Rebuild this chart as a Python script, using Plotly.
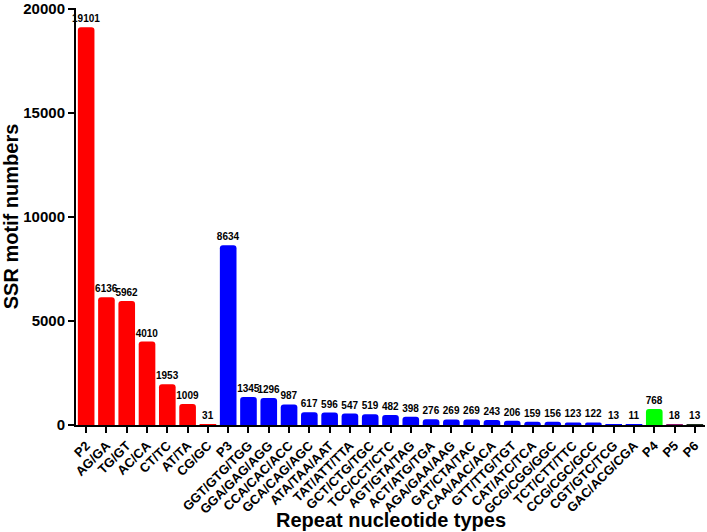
import plotly.graph_objects as go

categories = ["P2", "AG/GA", "TG/GT", "AC/CA", "CT/TC", "AT/TA", "CG/GC",
              "P3", "GGT/GTG/TGG", "GGA/GAG/AGG", "CCA/CAC/ACC", "GCA/CAG/AGC",
              "ATA/TAA/AAT", "TAT/ATT/TTA", "GCT/CTG/TGC", "TCC/CCT/CTC",
              "AGT/GTA/TAG", "ACT/ATG/TGA", "AGA/GAA/AAG", "GAT/CTA/TAC",
              "CAA/AAC/ACA", "GTT/TTG/TGT", "CAT/ATC/TCA", "GCG/CGG/GGC",
              "TCT/CTT/TTC", "CCG/CGC/GCC", "CGT/GTC/TCG", "GAC/ACG/CGA",
              "P4", "P5", "P6"]
values = [19101, 6136, 5962, 4010, 1953, 1009, 31,
          8634, 1345, 1296, 987, 617, 596, 547, 519, 482, 398, 276, 269, 269,
          243, 206, 159, 156, 123, 122, 13, 11,
          768, 18, 13]
groups = ["di"] * 7 + ["tri"] * 21 + ["tetra", "penta", "hexa"]
y_ticks = [0, 5000, 10000, 15000, 20000]

group_colors = {"di": "#ff0000", "tri": "#0000ff", "tetra": "#00ff00",
                "penta": "#8b1a6b", "hexa": "#203020"}
colors = [group_colors[g] for g in groups]

FONT = "Liberation Sans, Arial, sans-serif"

fig = go.Figure(go.Bar(
    x=categories, y=values,
    marker=dict(color=colors, line=dict(width=0), cornerradius=3),
    width=0.82,
    text=[str(v) for v in values],
    textposition="outside",
    constraintext="none",
    textfont=dict(family=FONT, size=10, color="black", weight="bold"),
    outsidetextfont=dict(family=FONT, size=10, color="black", weight="bold"),
    cliponaxis=False,
))

fig.update_layout(
    width=707, height=532,
    margin=dict(l=76, r=2, t=8, b=107),
    plot_bgcolor="white", paper_bgcolor="white",
    showlegend=False,
    font=dict(family=FONT, color="black"),
    annotations=[dict(
        text="Repeat nucleotide types", xref="paper", yref="paper",
        x=0.5, y=-0.228, xanchor="center", yanchor="middle", showarrow=False,
        font=dict(family=FONT, size=20, color="black", weight="bold"),
    )],
)
fig.update_xaxes(
    range=[-0.5, 30.5], tickangle=-45,
    showline=True, linecolor="black", linewidth=2,
    ticks="outside", ticklen=6, tickwidth=2, tickcolor="black",
    tickfont=dict(family=FONT, size=13, color="black", weight="bold"),
    automargin=False, showgrid=False,
)
fig.update_yaxes(
    range=[0, 20030], tickvals=y_ticks, tickformat="d",
    showline=True, linecolor="black", linewidth=2,
    ticks="outside", ticklen=6, tickwidth=2, tickcolor="black",
    tickfont=dict(family=FONT, size=15, color="black", weight="bold"),
    ticklabeloverflow="allow",
    title=dict(text="SSR motif numbers",
               font=dict(family=FONT, size=20, color="black", weight="bold"),
               standoff=7),
    automargin=False, showgrid=False, zeroline=False,
)

fig.write_html("out.html", config={"displayModeBar": False},
               post_script="document.body.style.margin='0';document.body.style.overflow='hidden';")
